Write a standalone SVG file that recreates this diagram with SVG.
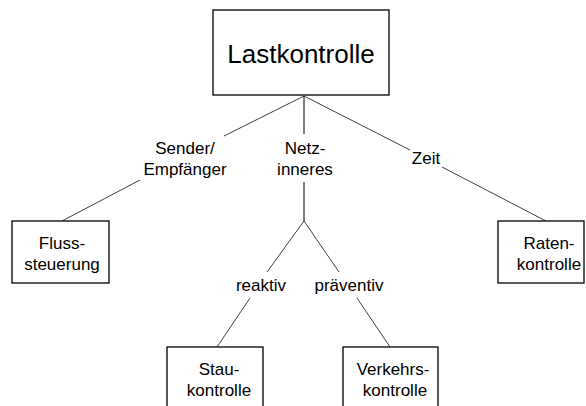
<svg xmlns="http://www.w3.org/2000/svg" width="586" height="406" viewBox="0 0 586 406">
<style>
.box{fill:#fff;stroke:#000;stroke-width:1.3}
.t{font-family:"Liberation Sans",Arial,sans-serif;font-size:17px;fill:#000;text-anchor:middle}
.big{font-size:26px}
.c line{stroke:#000;stroke-width:0.75}
</style>
<rect width="586" height="406" fill="#fff"/>
<g class="c" id="connectors">
<line x1="304" y1="96" x2="224" y2="136"/>
<line x1="140" y1="180" x2="62" y2="221"/>
<line x1="304" y1="96" x2="304" y2="134" style="stroke-width:1"/>
<line x1="304" y1="182" x2="304" y2="221" style="stroke-width:1"/>
<line x1="304" y1="96" x2="410" y2="150"/>
<line x1="442" y1="167" x2="546" y2="221"/>
<line x1="304" y1="221" x2="267" y2="272"/>
<line x1="250" y1="298" x2="217" y2="347"/>
<line x1="304" y1="221" x2="339" y2="272"/>
<line x1="357" y1="298" x2="390" y2="347"/>
<text class="t" x="185" y="154">Sender/</text>
<text class="t" x="185" y="175">Empfänger</text>
<text class="t" x="305" y="154">Netz-</text>
<text class="t" x="305" y="175">inneres</text>
<text class="t" x="426" y="164">Zeit</text>
<text class="t" x="261" y="291">reaktiv</text>
<text class="t" x="349" y="291">präventiv</text>
</g>
<g id="lastkontrolle">
<rect class="box" x="213" y="10" width="176" height="85"/>
<text class="t big" x="301" y="63">Lastkontrolle</text>
</g>
<g id="flusssteuerung">
<rect class="box" x="12" y="221" width="97" height="62"/>
<text class="t" x="62" y="249">Fluss-</text>
<text class="t" x="62" y="270">steuerung</text>
</g>
<g id="ratenkontrolle">
<rect class="box" x="498" y="221" width="86" height="62"/>
<text class="t" x="549" y="249">Raten-</text>
<text class="t" x="549" y="270">kontrolle</text>
</g>
<g id="staukontrolle">
<rect class="box" x="167" y="347" width="96" height="70"/>
<text class="t" x="219" y="375">Stau-</text>
<text class="t" x="219" y="396">kontrolle</text>
</g>
<g id="verkehrskontrolle">
<rect class="box" x="343" y="347" width="95" height="70"/>
<text class="t" x="393" y="375">Verkehrs-</text>
<text class="t" x="395" y="396">kontrolle</text>
</g>
</svg>
